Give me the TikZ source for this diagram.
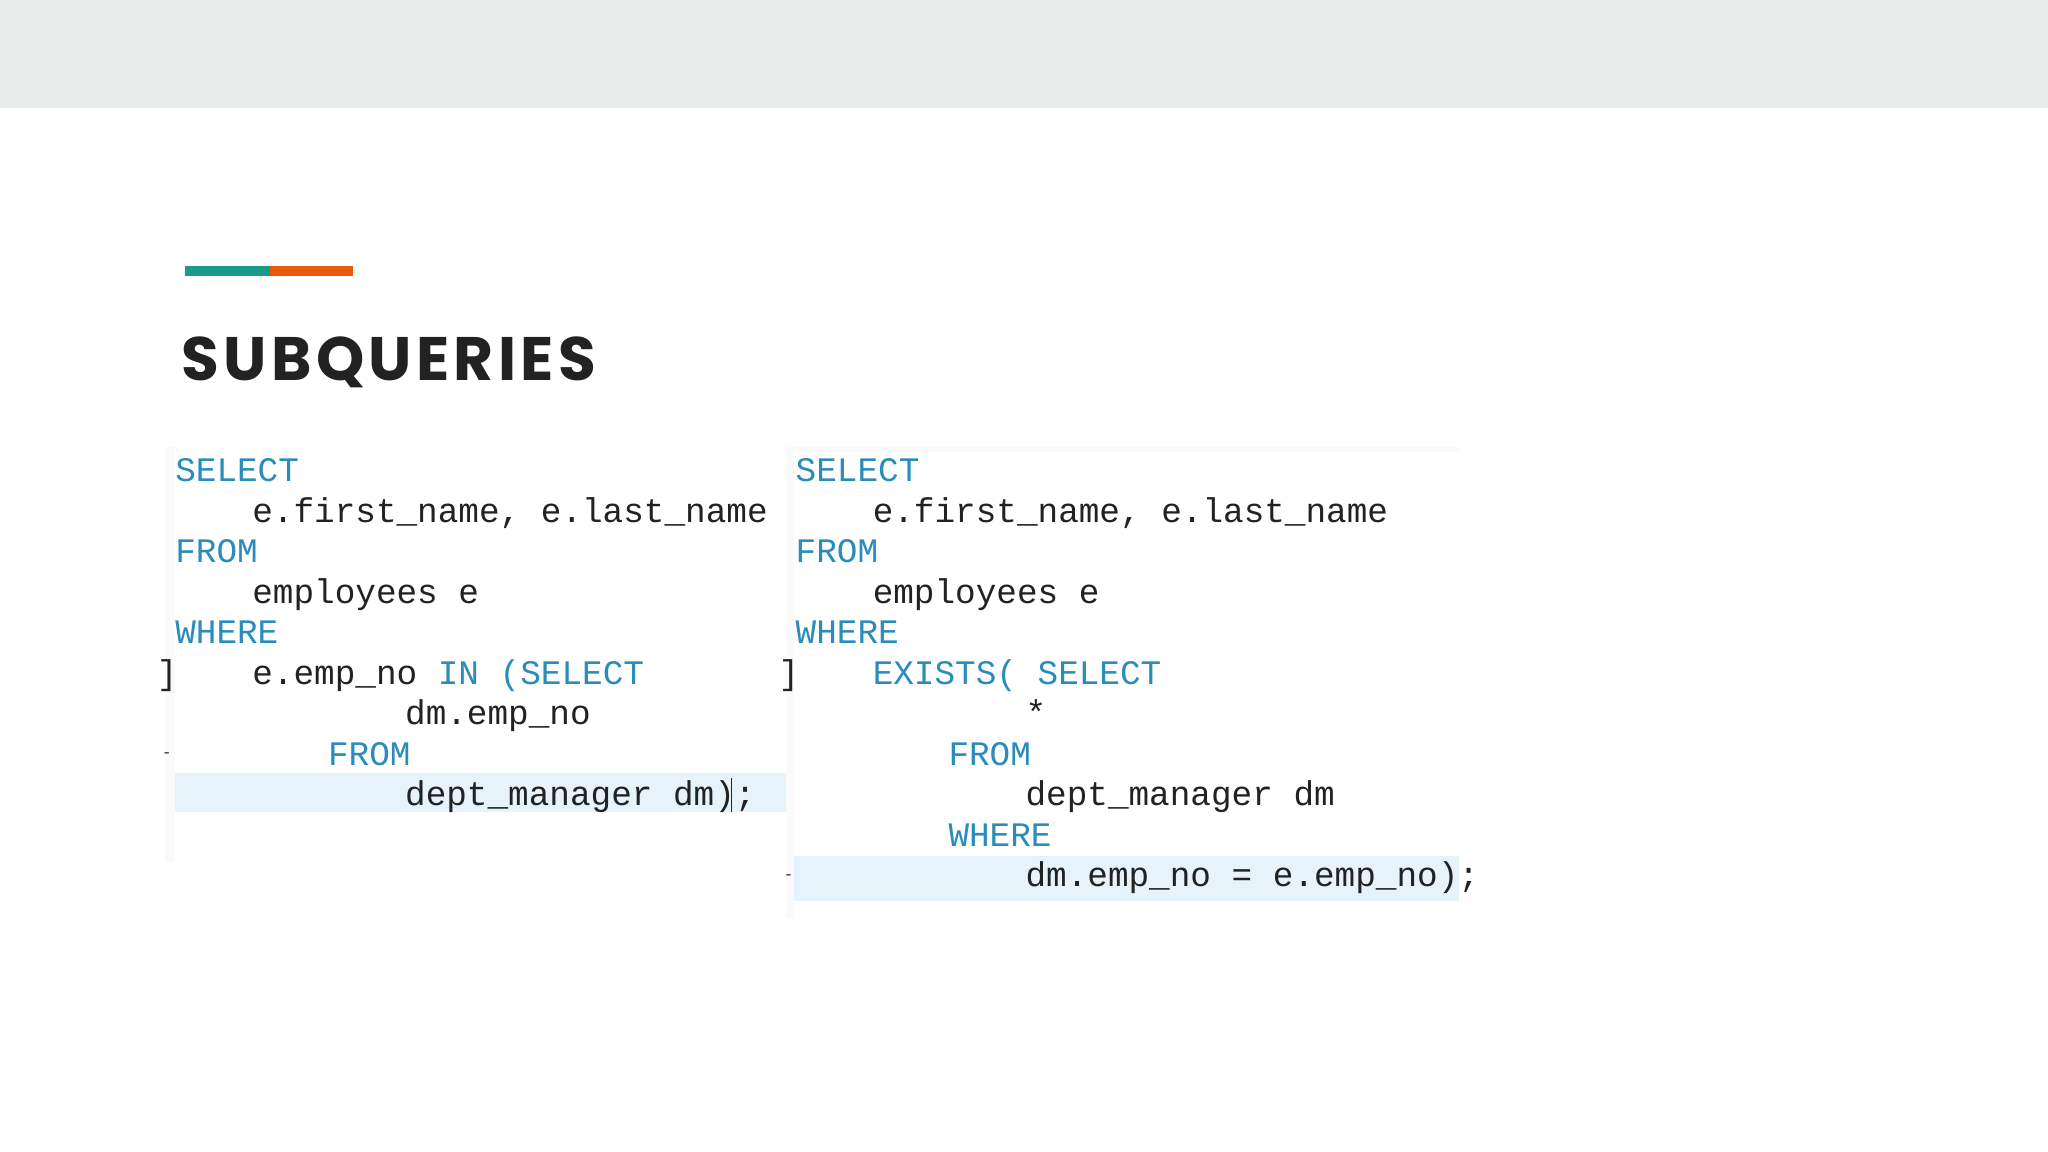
\documentclass[tikz,border=0pt]{standalone}
\usepackage{fontspec}
\setmonofont{Liberation Mono}
\setsansfont{Poppins}
\definecolor{kw}{HTML}{2A8CBA}
\definecolor{tx}{HTML}{222222}
\definecolor{band}{HTML}{E9ECEB}
\definecolor{hl}{HTML}{E6F3FB}
\definecolor{teal}{HTML}{1A9A8C}
\definecolor{orng}{HTML}{E8590C}
\begin{document}
\begin{tikzpicture}[x=1pt,y=-1pt,
  code/.style={anchor=base west,inner sep=0pt,font=\ttfamily\fontsize{26.3}{26}\selectfont,text=tx},
  k/.style={code,text=kw}]
\useasboundingbox (0,0) rectangle (1568,882);
\fill[white] (0,0) rectangle (1568,882);
\fill[band] (0,0) rectangle (1568,83);
\fill[teal] (142,204) rectangle (207,211);
\fill[orng] (207,204) rectangle (270,211);
\node[anchor=base west,inner sep=0pt,font=\sffamily\bfseries\fontsize{47}{47}\selectfont\addfontfeature{LetterSpace=7},text=tx] (title) at (139,291) {SUBQUERIES};
% panels
\fill[gray!4] (126,342) rectangle (602,660);
\fill[white] (134,342) rectangle (602,660);
\fill[gray!4] (602,342) rectangle (1117,703);
\fill[white] (608,346) rectangle (1117,703);
\fill[hl] (134,592) rectangle (602,622);
\fill[hl] (608,655) rectangle (1117,690);
% left code
\node[k] (l1) at (134,369) {SELECT};
\node[code] (l2) at (193,400) {e.first\_name, e.last\_name};
\node[k] (l3) at (134,431) {FROM};
\node[code] (l4) at (193,462) {employees e};
\node[k] (l5) at (134,493) {WHERE};
\node[code] (l6) at (193,524) {e.emp\_no \textcolor{kw}{IN (SELECT}};
\node[code] (l7) at (310,555) {dm.emp\_no};
\node[k] (l8) at (251,586) {FROM};
\node[code] (l9) at (310,617) {dept\_manager dm);};
\draw[tx,line width=1.2pt] (560,596) -- (560,622);
\node[code] (m1) at (120,524) {]};
\node[code,font=\ttfamily\fontsize{12}{12}\selectfont] (m2) at (124,580) {-};
% right code
\node[k] (r1) at (609,369) {SELECT};
\node[code] (r2) at (668,400) {e.first\_name, e.last\_name};
\node[k] (r3) at (609,431) {FROM};
\node[code] (r4) at (668,462) {employees e};
\node[k] (r5) at (609,493) {WHERE};
\node[k] (r6) at (668,524) {EXISTS( SELECT};
\node[code] (r7) at (785,555) {*};
\node[k] (r8) at (726,586) {FROM};
\node[code] (r9) at (785,617) {dept\_manager dm};
\node[k] (r10) at (726,648) {WHERE};
\node[code] (r11) at (785,679) {dm.emp\_no = e.emp\_no);};
\node[code] (m3) at (596,524) {]};
\node[code,font=\ttfamily\fontsize{12}{12}\selectfont] (m4) at (600,673) {-};
\end{tikzpicture}
\end{document}
